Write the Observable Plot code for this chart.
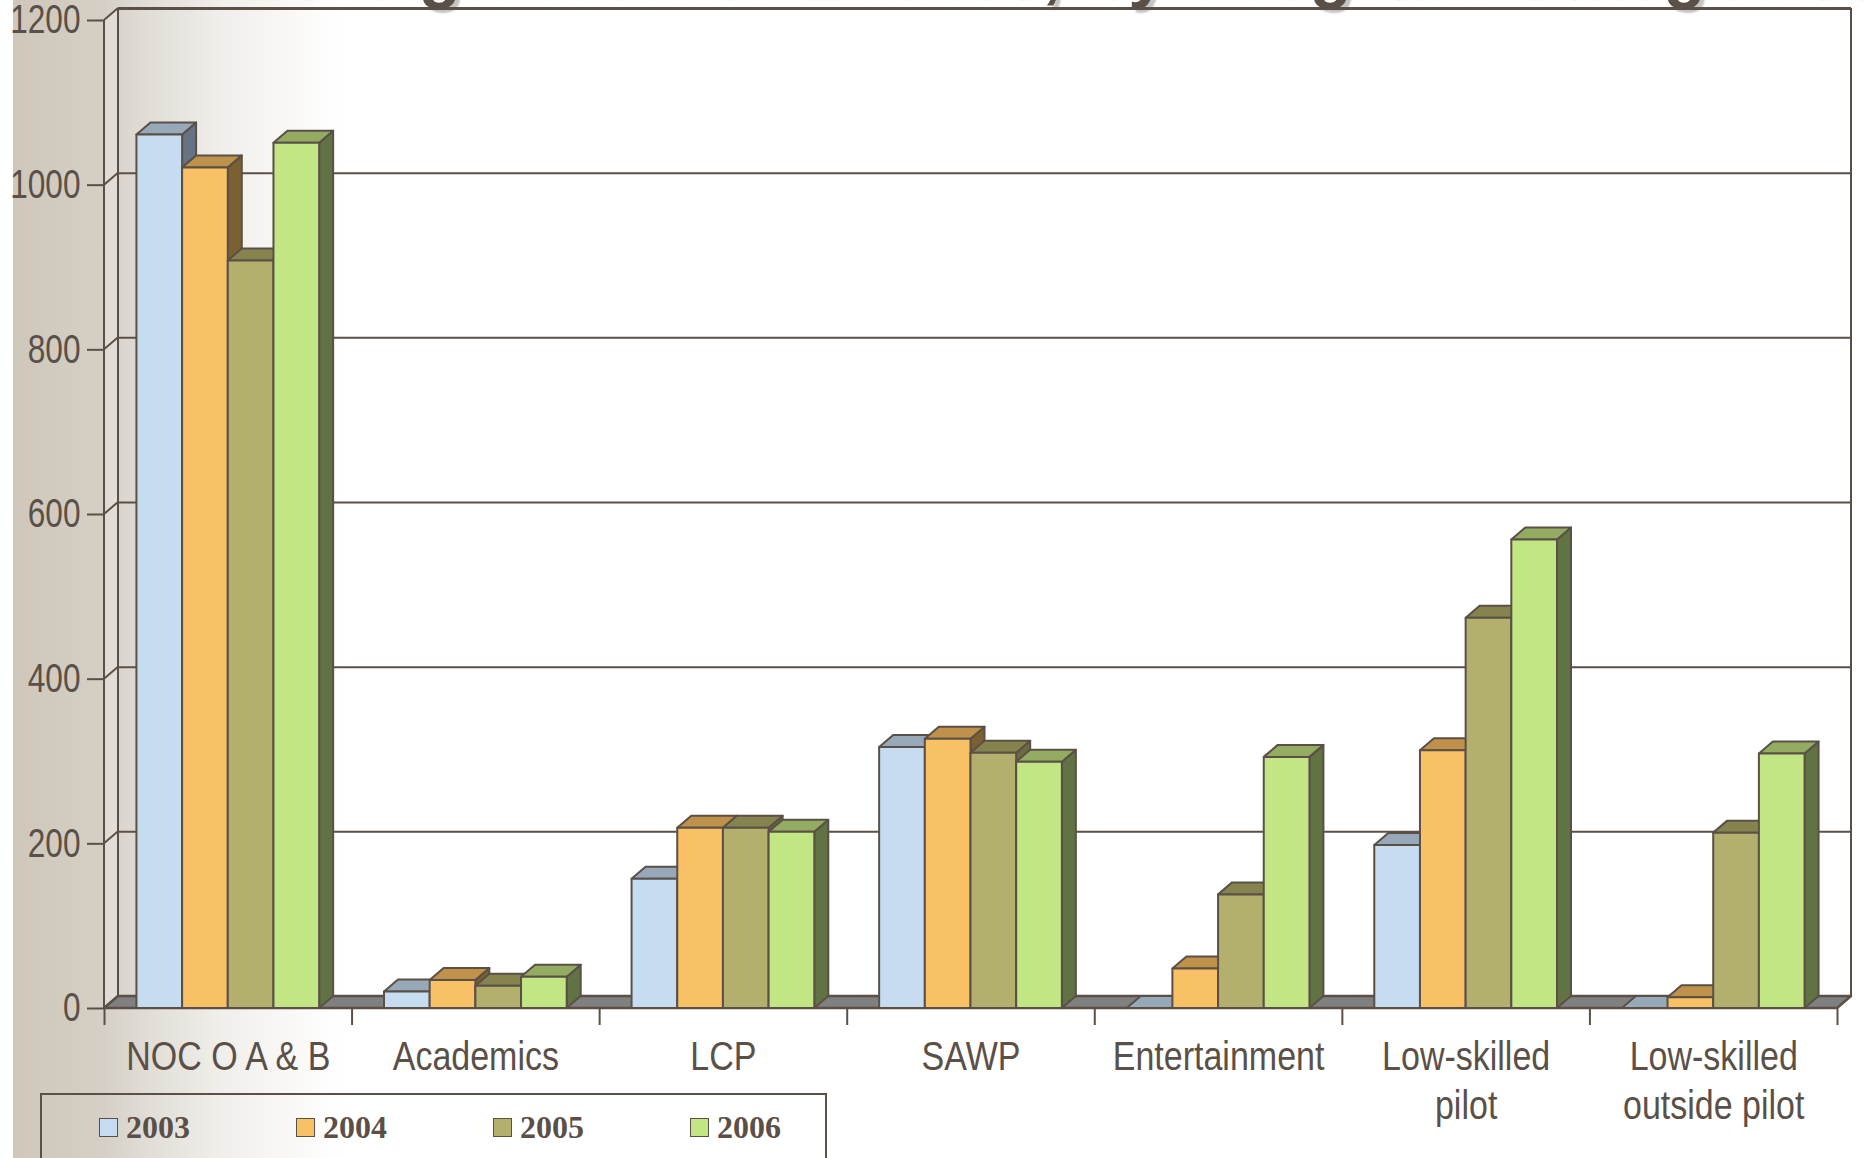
<!DOCTYPE html>
<html>
<head>
<meta charset="utf-8">
<script src="https://cdn.jsdelivr.net/npm/d3@7"></script>
<script src="https://cdn.jsdelivr.net/npm/@observablehq/plot@0.6"></script>
<style>
  html, body { margin: 0; padding: 0; background: #fff; overflow: hidden; width: 1864px; height: 1158px; }
  #wrap { position: relative; width: 1864px; height: 1158px; overflow: hidden; }
  #bg { position: absolute; left: 13px; top: 0; width: 330px; height: 1158px;
        background: linear-gradient(to right, #cfc7ba 0px, #d5cfc5 90px, #e0dcd5 130px, #f1efeb 210px, #ffffff 330px); }
  #title { position: absolute; left: 241px; top: -63px; white-space: nowrap; letter-spacing: 1.8px;
           font: bold 69px "Liberation Sans", Arial, sans-serif; line-height: 69px; color: #5a5048;
           text-shadow: 4px 4px 2px #c4c4c4; }
  #chart { position: absolute; left: 0; top: 0; }
  #legend { position: absolute; left: 40px; top: 1093px; width: 787px; height: 110px;
            border: 2px solid #5a5048; box-sizing: border-box; }
  .item { position: absolute; top: 14px; display: flex; align-items: center;
          font: bold 32px "Liberation Serif", "Times New Roman", serif; color: #5a5048; }
  .sw { width: 17px; height: 17px; border: 1.5px solid #5a5048; margin-right: 8px; }
</style>
</head>
<body>
<div id="wrap">
  <div id="bg"></div>
  <div id="title"></div>
  <div id="chart"></div>
  <div id="legend"></div>
</div>
<script>
// ---- data ----
const categories = ["NOC O A & B", "Academics", "LCP", "SAWP", "Entertainment", "Low-skilled pilot", "Low-skilled outside pilot"];
const categoryLabels = ["NOC O A & B", "Academics", "LCP", "SAWP", "Entertainment", "Low-skilled\npilot", "Low-skilled\noutside pilot"];
const years = ["2003", "2004", "2005", "2006"];
const v2003 = [1061, 20, 157, 317, 0, 198, 0];
const v2004 = [1021, 34, 219, 327, 48, 313, 13];
const v2005 = [908, 27, 219, 310, 138, 474, 213];
const v2006 = [1051, 38, 214, 299, 305, 569, 309];
const yTicks = [0, 200, 400, 600, 800, 1000, 1200];
const titleText = "Foreign Worker Entries, by Program Categories";

// ---- styles ----
const INK = "#5a5048";
const frontColors = ["#c6dcf0", "#f8c165", "#b2b06c", "#c2e684"];
const topColors = ["#97a8b8", "#bf914a", "#85844f", "#93ac62"];
const sideColors = ["#657383", "#7b6032", "#6b6a42", "#617342"];
const DX = 14, DY = -12;          // 3D depth offset in pixels
const GROUP_PAD = 0.131;          // fraction of a category slot left empty on each side
const BAR_W = (1 - 2 * GROUP_PAD) / years.length;
const FONT = "'Liberation Sans', Arial, sans-serif";

const series = [v2003, v2004, v2005, v2006];
const rows = [];
categories.forEach((c, i) => years.forEach((yr, j) => rows.push({i, j, category: c, year: yr, value: series[j][i]})));

function frame3d(index, {x, y}) {
  const x0 = x(0), x1 = x(categories.length), yb = y(0), yt = y(yTicks[yTicks.length - 1]);
  const g = d3.create("svg:g").attr("stroke", INK).attr("stroke-linejoin", "round").attr("fill", "none");
  g.append("path").attr("stroke", "none").attr("fill", "#ffffff").attr("fill-opacity", 0.25)
    .attr("d", `M${x0},${yb}L${x0 + DX},${yb + DY}L${x0 + DX},${yt + DY}L${x0},${yt}Z`);
  g.append("line").attr("stroke-width", 2).attr("x1", x0 + DX).attr("x2", x0 + DX).attr("y1", yt + DY).attr("y2", yb + DY);
  g.append("line").attr("stroke-width", 2).attr("x1", x1 + DX).attr("x2", x1 + DX).attr("y1", yt + DY).attr("y2", yb + DY);
  for (const t of yTicks) {
    g.append("line").attr("stroke-width", 2).attr("x1", x0).attr("y1", y(t)).attr("x2", x0 + DX).attr("y2", y(t) + DY);
  }
  g.append("line").attr("stroke-width", 2).attr("x1", x0).attr("x2", x0).attr("y1", yt).attr("y2", yb);
  g.append("path").attr("fill", "#808080").attr("stroke-width", 2.5)
    .attr("d", `M${x0},${yb}L${x0 + DX},${yb + DY}L${x1 + DX},${yb + DY}L${x1},${yb}Z`);
  return g.node();
}

function bars3d(index, {x, y}) {
  const g = d3.create("svg:g").attr("stroke", INK).attr("stroke-width", 2).attr("stroke-linejoin", "round");
  for (const r of rows) {
    const a = r.i + GROUP_PAD + r.j * BAR_W;
    const xl = x(a), xr = x(a + BAR_W), yt = y(r.value), yb = y(0);
    g.append("path").attr("fill", sideColors[r.j])
      .attr("d", `M${xr},${yt}L${xr + DX},${yt + DY}L${xr + DX},${yb + DY}L${xr},${yb}Z`);
    g.append("path").attr("fill", topColors[r.j])
      .attr("d", `M${xl},${yt}L${xl + DX},${yt + DY}L${xr + DX},${yt + DY}L${xr},${yt}Z`);
    g.append("path").attr("fill", frontColors[r.j])
      .attr("d", `M${xl},${yt}L${xr},${yt}L${xr},${yb}L${xl},${yb}Z`);
  }
  return g.node();
}

const plot = Plot.plot({
  width: 1864,
  height: 1158,
  marginLeft: 104,
  marginRight: 27,
  marginTop: 20,
  marginBottom: 150,
  style: {background: "transparent", color: INK, fontFamily: FONT},
  x: {type: "linear", domain: [0, categories.length]},
  y: {domain: [0, yTicks[yTicks.length - 1]]},
  marks: [
    frame3d,
    Plot.ruleY(yTicks.filter(t => t > 0), {dx: DX, dy: DY, stroke: INK, strokeWidth: d => d === 1200 ? 3 : 2}),
    bars3d,
    Plot.axisY({ticks: yTicks, tickSize: 17, tickPadding: 7, tickFormat: d => String(d),
                fontSize: 40, fontFamily: FONT, strokeWidth: 2, label: null}),
    Plot.axisX({ticks: d3.range(categories.length + 1), tickSize: 17, tickFormat: () => "", strokeWidth: 2, label: null}),
    Plot.axisX({ticks: d3.range(categories.length).map(i => i + 0.5), tickSize: 0, tickPadding: 27,
                tickFormat: t => categoryLabels[Math.floor(t)], fontSize: 40, fontFamily: FONT,
                lineHeight: 1.22, label: null})
  ]
});
document.getElementById("chart").append(plot);

// condensed look: squeeze the glyphs of the axis labels horizontally
function condense(selector, factor) {
  plot.querySelectorAll(selector).forEach(el => {
    const spans = el.querySelectorAll("tspan");
    const targets = spans.length ? Array.from(spans) : [el];
    targets.forEach(t => {
      const w = t.getComputedTextLength();
      if (w > 0) {
        t.setAttribute("textLength", w * factor);
        t.setAttribute("lengthAdjust", "spacingAndGlyphs");
      }
    });
  });
}
condense('g[aria-label="y-axis tick label"] text', 0.79);
condense('g[aria-label="x-axis tick label"] text', 0.85);

document.getElementById("title").textContent = titleText;

const legend = document.getElementById("legend");
years.forEach((yr, j) => {
  const item = document.createElement("div");
  item.className = "item";
  item.style.left = (57 + j * 197) + "px";
  const sw = document.createElement("div");
  sw.className = "sw";
  sw.style.background = frontColors[j];
  const tx = document.createElement("span");
  tx.textContent = yr;
  item.append(sw, tx);
  legend.append(item);
});
</script>
</body>
</html>
